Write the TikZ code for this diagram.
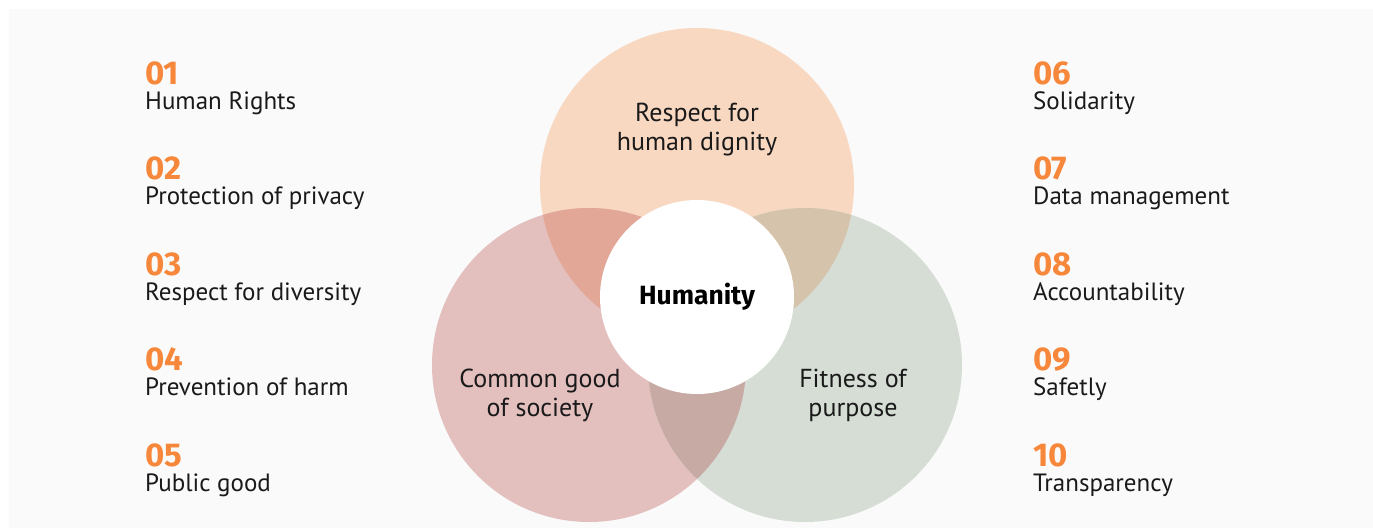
\documentclass[tikz,border=0pt]{standalone}
\usepackage{fontspec}
\setmainfont{PT Sans}
\newfontfamily\numfont{Fira Sans}
\definecolor{bgcol}{HTML}{FAFAFA}
\definecolor{topc}{HTML}{F9D8C1}
\definecolor{leftc}{HTML}{E3BFBE}
\definecolor{rightc}{HTML}{D5DDD5}
\definecolor{tlc}{HTML}{E2A796}
\definecolor{trc}{HTML}{D6C3AB}
\definecolor{lrc}{HTML}{C7AAA3}
\definecolor{numc}{HTML}{F7873A}
\definecolor{txtc}{HTML}{1A1A1A}
\tikzset{
  numlbl/.style={anchor=base west, inner sep=0pt, text=numc, font=\numfont\fontsize{33}{36}\selectfont\bfseries},
  itemlbl/.style={anchor=base west, inner sep=0pt, text=txtc, font=\fontsize{25}{29}\selectfont},
  circlbl/.style={align=center, inner sep=0pt, text=txtc, font=\fontsize{26}{29}\selectfont},
}
\begin{document}
\begin{tikzpicture}[x=1pt,y=-1pt]
\useasboundingbox (0,0) rectangle (1373,528);
\fill[bgcol] (9,9) rectangle (1373,528);
\coordinate (T) at (697,185);
\coordinate (L) at (589,365);
\coordinate (R) at (805,365);
\coordinate (C) at (697,297);
\fill[topc] (T) circle (157pt);
\fill[leftc] (L) circle (157pt);
\fill[rightc] (R) circle (157pt);
\begin{scope}
  \clip (T) circle (157pt);
  \fill[tlc] (L) circle (157pt);
  \fill[trc] (R) circle (157pt);
\end{scope}
\begin{scope}
  \clip (L) circle (157pt);
  \fill[lrc] (R) circle (157pt);
\end{scope}
\fill[white] (C) circle (97pt);
\node[circlbl] (ct) at (697,130) {Respect for\\human dignity};
\node[circlbl] (cl) at (540,395) {Common good\\of society};
\node[circlbl] (cr) at (853,395) {Fitness of\\purpose};
\node[inner sep=0pt, text=black, font=\numfont\fontsize{26.4}{29}\selectfont\bfseries] (hum) at (C) {Humanity};
% left list
\node[numlbl] (n1) at (145,84) {01};
\node[itemlbl] (t1) at (145,109) {Human Rights};
\node[numlbl] (n2) at (145,179.5) {02};
\node[itemlbl] (t2) at (145,204.5) {Protection of privacy};
\node[numlbl] (n3) at (145,275) {03};
\node[itemlbl] (t3) at (145,300) {Respect for diversity};
\node[numlbl] (n4) at (145,370.5) {04};
\node[itemlbl] (t4) at (145,395.5) {Prevention of harm};
\node[numlbl] (n5) at (145,466) {05};
\node[itemlbl] (t5) at (145,491) {Public good};
% right list
\node[numlbl] (n6) at (1033,84) {06};
\node[itemlbl] (t6) at (1033,109) {Solidarity};
\node[numlbl] (n7) at (1033,179.5) {07};
\node[itemlbl] (t7) at (1033,204.5) {Data management};
\node[numlbl] (n8) at (1033,275) {08};
\node[itemlbl] (t8) at (1033,300) {Accountability};
\node[numlbl] (n9) at (1033,370.5) {09};
\node[itemlbl] (t9) at (1033,395.5) {Safetly};
\node[numlbl] (n10) at (1033,466) {10};
\node[itemlbl] (t10) at (1033,491) {Transparency};
\end{tikzpicture}
\end{document}
